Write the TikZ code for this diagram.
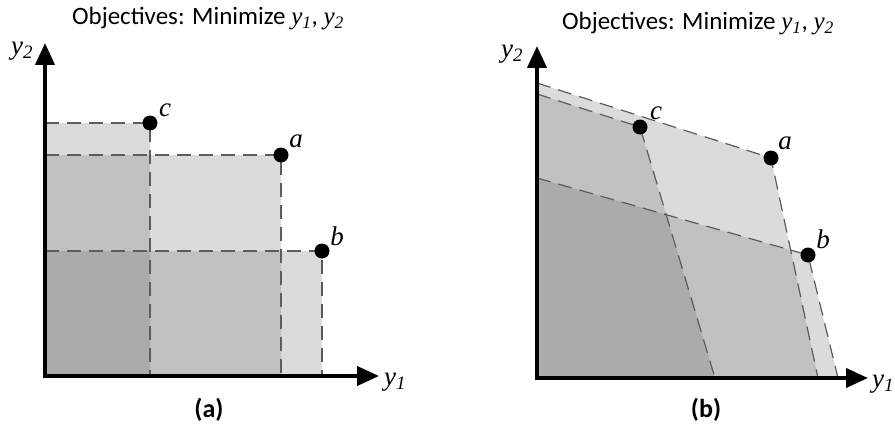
\documentclass[tikz,border=0pt]{standalone}
\usepackage{fontspec}
\setmainfont{Carlito}
\newfontfamily\serifit{Liberation Serif}
\usetikzlibrary{arrows.meta}
\definecolor{lightg}{gray}{0.86}
\definecolor{midg}{gray}{0.755}
\definecolor{darkg}{gray}{0.67}
\definecolor{dashg}{gray}{0.36}
\newcommand{\yy}[1]{{\serifit\itshape y\textsubscript{#1}}}
\tikzset{
 axisline/.style={line width=4pt, -{Triangle[length=22pt,width=19pt]}},
 dline/.style={draw=dashg, line width=1.2pt, dash pattern=on 14pt off 8pt},
 dot/.style={circle, fill=black, inner sep=0pt, minimum size=15pt},
 ptlabel/.style={font=\fontsize{27}{27}\serifit\itshape, inner sep=0pt},
 axlabel/.style={font=\fontsize{27}{27}\selectfont, inner sep=0pt},
 titletext/.style={font=\fontsize{25}{28}\selectfont, inner sep=0pt},
 captext/.style={font=\fontsize{26}{28}\selectfont\bfseries, inner sep=0pt},
}
\begin{document}
\begin{tikzpicture}[x=1pt,y=-1pt]
\useasboundingbox (0,0) rectangle (895,428);
% ---------- panel (a) ----------
\coordinate (Oa) at (45,376);
\coordinate (ca) at (150,123);
\coordinate (aa) at (281,155);
\coordinate (ba) at (322,251);
\fill[lightg] (Oa) rectangle (ca);
\fill[lightg] (Oa) rectangle (aa);
\fill[lightg] (Oa) rectangle (ba);
\fill[midg] (Oa) rectangle (ca |- aa);
\fill[midg] (Oa) rectangle (aa |- ba);
\fill[darkg] (Oa) rectangle (ca |- ba);
\draw[dline] (ca -| Oa) -- (ca) -- (ca |- Oa);
\draw[dline] (aa -| Oa) -- (aa) -- (aa |- Oa);
\draw[dline] (ba -| Oa) -- (ba) -- (ba |- Oa);
\coordinate (yta) at (45,43);
\coordinate (xta) at (379,376);
\draw[axisline] (45,378) -- (yta);
\draw[axisline] (43,376) -- (xta);
\node[dot] (dca) at (ca) {};
\node[dot] (daa) at (aa) {};
\node[dot] (dba) at (ba) {};
\node[ptlabel] (lca) at (165,110) {c};
\node[ptlabel] (laa) at (296,141) {a};
\node[ptlabel] (lba) at (337,236) {b};
\node[axlabel] (y2a) at (22,51) {\yy{2}};
\node[axlabel] (y1a) at (395,382) {\yy{1}};
\node[titletext] (ta) at (208,19) {Objectives: Minimize \yy{1}, \yy{2}};
\node[captext] (capa) at (209,410) {(a)};
% ---------- panel (b) ----------
\coordinate (Ob) at (537,378);
\coordinate (ab) at (771,158);
\coordinate (aby) at (537,83);
\coordinate (abx) at (818,378);
\coordinate (cb) at (640,127);
\coordinate (cby) at (537,94);
\coordinate (cbx) at (715,378);
\coordinate (bb) at (808,255);
\coordinate (bby) at (537,178);
\coordinate (bbx) at (838,378);
\def\polyA{(Ob) -- (aby) -- (ab) -- (abx) -- cycle}
\def\polyC{(Ob) -- (cby) -- (cb) -- (cbx) -- cycle}
\def\polyB{(Ob) -- (bby) -- (bb) -- (bbx) -- cycle}
\fill[lightg] \polyA;
\fill[lightg] \polyC;
\fill[lightg] \polyB;
\begin{scope}
\clip \polyA;
\fill[midg] \polyC;
\fill[midg] \polyB;
\end{scope}
\begin{scope}
\clip \polyA;
\clip \polyC;
\fill[darkg] \polyB;
\end{scope}
\draw[dline] (aby) -- (ab) -- (abx);
\draw[dline] (cby) -- (cb) -- (cbx);
\draw[dline] (bby) -- (bb) -- (bbx);
\coordinate (ytb) at (537,46);
\coordinate (xtb) at (868,378);
\draw[axisline] (537,380) -- (ytb);
\draw[axisline] (535,378) -- (xtb);
\node[dot] (dcb) at (cb) {};
\node[dot] (dab) at (ab) {};
\node[dot] (dbb) at (bb) {};
\node[ptlabel] (lcb) at (656,113) {c};
\node[ptlabel] (lab) at (785,143) {a};
\node[ptlabel] (lbb) at (823,239) {b};
\node[axlabel] (y2b) at (512,54) {\yy{2}};
\node[axlabel,anchor=west] (y1b) at (872,384) {\yy{1}};
\node[titletext] (tb) at (698,24) {Objectives: Minimize \yy{1}, \yy{2}};
\node[captext] (capb) at (706,410) {(b)};
\end{tikzpicture}
\end{document}
